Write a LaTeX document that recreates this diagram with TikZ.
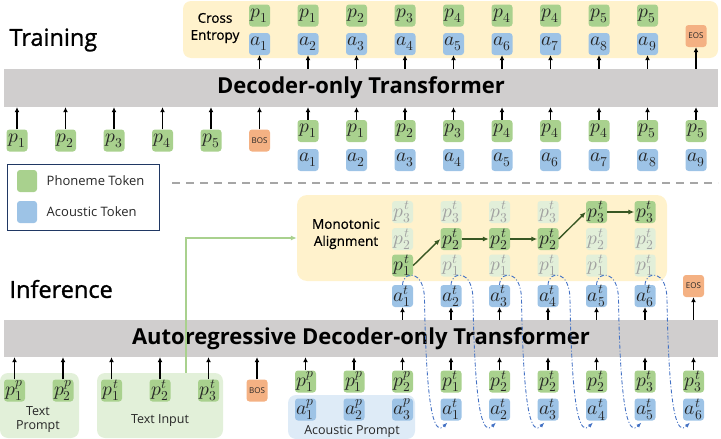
\documentclass[tikz,border=0pt]{standalone}
\usepackage{fontspec}
\usepackage{unicode-math}
\setmainfont{Open Sans}
\setmathfont{Latin Modern Math}
\newfontfamily\medfont{Open Sans}[FakeBold=1.2]
\newfontfamily\semifont{Open Sans}[FakeBold=0.7]
\usetikzlibrary{arrows.meta}
\definecolor{phg}{HTML}{A9D18E}
\definecolor{acb}{HTML}{9DC3E6}
\definecolor{fadeg}{HTML}{E2EFD9}
\definecolor{fadet}{HTML}{A0A0A0}
\definecolor{spo}{HTML}{F4B183}
\definecolor{cream}{HTML}{FFF2CC}
\definecolor{graybar}{HTML}{D0CECE}
\definecolor{lgbg}{HTML}{E2F0D9}
\definecolor{acbg}{HTML}{DEEBF7}
\definecolor{darkg}{HTML}{385723}
\definecolor{navy}{HTML}{203864}
\definecolor{dgray}{HTML}{A6A6A6}
\definecolor{bcurv}{HTML}{4472C4}
\definecolor{txt}{HTML}{262626}
\tikzset{
  tok/.style={minimum width=21pt, minimum height=22pt, rounded corners=3pt, inner sep=0pt, text=txt, font=\fontsize{19.5}{19.5}\selectfont},
  ph/.style={tok, fill=phg},
  ac/.style={tok, fill=acb},
  fd/.style={tok, fill=fadeg, text=fadet},
  sp/.style={tok, fill=spo, font=\fontsize{8}{8}\selectfont},
  arr/.style={-{Latex[length=5pt,width=5pt]}, line width=1.3pt, black},
  garr/.style={-{Latex[length=6pt,width=5pt]}, line width=1.4pt, darkg},
  bar/.style={fill=graybar, inner sep=0pt, minimum width=714pt, font=\bfseries\fontsize{22}{22}\selectfont, text=black},
  bgbox/.style={rounded corners=8pt, inner sep=0pt},
  lbl/.style={font=\fontsize{12.5}{14}\selectfont, text=txt, align=center},
  blbl/.style={font=\semifont\fontsize{13.5}{17}\selectfont, text=black, align=center},
  ttl/.style={font=\medfont\fontsize{23.5}{24}\selectfont, text=black},
  bcurve/.style={bcurv, line width=0.9pt, dash pattern=on 4pt off 2pt on 1pt off 2pt, -{Latex[length=5pt,width=4pt]}},
}
\begin{document}
\begin{tikzpicture}[x=1pt,y=-1pt]
\useasboundingbox (0,0) rectangle (721,439);

% ---------------- Training ----------------
\node[anchor=west, ttl] (train) at (6,40) {Training};
\node[bgbox, fill=cream, minimum width=535pt, minimum height=57pt] (cebox) at (450.5,29.5) {};
\node[blbl] (ce) at (215,28) {Cross\\Entropy};
\node[bar, minimum height=38pt] (bar1) at (361,88) {Decoder-only Transformer};

\foreach \i/\p [count=\k] in {5/1,6/1,7/2,8/3,9/4,10/4,11/4,12/5,13/5} {
  \node[ph] (tp\k) at ({17+48.5*\i},15.5) {$p_{\p}$};
  \node[ac] (ta\k) at ({17+48.5*\i},44) {$a_{\k}$};
  \draw[arr] (ta\k.south |- bar1.north) -- (ta\k.south);
}
\node[sp] (teos) at (696,36) {EOS};
\draw[arr] (teos.south |- bar1.north) -- (teos.south);

\foreach \k in {1,...,5} {
  \node[ph] (lp\k) at ({17+48.5*(\k-1)},140.5) {$p_{\k}$};
  \draw[arr] (lp\k.north) -- (lp\k.north |- bar1.south);
}
\node[sp] (tbos) at (259.5,140.5) {BOS};
\draw[arr] (tbos.north) -- (tbos.north |- bar1.south);

\foreach \i/\p [count=\k] in {6/1,7/1,8/2,9/3,10/4,11/4,12/4,13/5,14/5} {
  \node[ph] (bp\k) at ({17+48.5*\i},131) {$p_{\p}$};
  \node[ac] (ba\k) at ({17+48.5*\i},160) {$a_{\k}$};
  \draw[arr] (bp\k.north) -- (bp\k.north |- bar1.south);
}

% legend
\node[draw=navy, line width=1.2pt, minimum width=152pt, minimum height=66pt, inner sep=0pt] (leg) at (83.5,197.5) {};
\node[ph, minimum width=20pt] (lg1) at (27,181) {};
\node[lbl, anchor=west, font=\fontsize{13}{14}\selectfont] (lgt1) at (lg1.east) [xshift=6pt] {Phoneme Token};
\node[ac, minimum width=20pt] (lg2) at (27,212) {};
\node[lbl, anchor=west, font=\fontsize{13}{14}\selectfont] (lgt2) at (lg2.east) [xshift=6pt] {Acoustic Token};

% dashed separator
\coordinate (ds1) at (172,183);
\coordinate (ds2) at (718,183);
\draw[dgray, line width=1.4pt, dash pattern=on 8pt off 6pt] (ds1) -- (ds2);

% ---------------- Inference ----------------
\node[anchor=west, ttl] (infer) at (6,289) {Inference};
\node[bgbox, fill=cream, rounded corners=10pt, minimum width=370pt, minimum height=86pt] (mono) at (482,238) {};
\node[blbl] (monot) at (346,234) {Monotonic\\Alignment};

\node[bar, minimum height=37pt] (bar2) at (361,338.5) {Autoregressive Decoder-only Transformer};

\foreach \lv [count=\k] in {1,2,2,2,3,3} {
  \foreach \r/\yy in {1/265.5,2/239,3/212} {
    \ifnum\r=\lv \tikzset{cur/.style={ph}}\else\tikzset{cur/.style={fd}}\fi
    \node[cur] (m\k\r) at ({14.5+48.5*(7+\k)},\yy) {$p^{t}_{\r}$};
  }
  \node[ac] (ia\k) at ({14.5+48.5*(7+\k)},296) {$a^{t}_{\k}$};
  \draw[arr] (ia\k.south |- bar2.north) -- (ia\k.south);
}
\draw[garr] (m11.east) -- (m22.west);
\draw[garr] (m22.east) -- (m32.west);
\draw[garr] (m32.east) -- (m42.west);
\draw[garr] (m42.east) -- (m53.west);
\draw[garr] (m53.east) -- (m63.west);

\node[sp] (ieos) at (693.5,286) {EOS};
\draw[arr] (ieos.south |- bar2.north) -- (ieos.south);

% bottom backgrounds
\node[bgbox, fill=lgbg, minimum width=79pt, minimum height=65pt] (tpbox) at (39.5,405.5) {};
\node[bgbox, fill=lgbg, minimum width=126pt, minimum height=65pt] (tibox) at (160,405.5) {};
\node[bgbox, fill=acbg, minimum width=127pt, minimum height=44pt] (apbox) at (351.5,417) {};
\node[lbl] (tpl) at (38,420) {Text\\Prompt};
\node[lbl] (til) at (160,421) {Text Input};
\node[lbl] (apl) at (352,431) {Acoustic Prompt};

% green line from text input
\coordinate (glx) at (186,0);
\draw[phg, line width=1.3pt, -{Latex[length=6pt,width=5pt]}] (tibox.north -| glx) |- (mono.west);

% bottom tokens
\foreach \s/\n [count=\k] in {p/1,p/2,t/1,t/2,t/3} {
  \node[ph] (lt\k) at ({14.5+48.5*(\k-1)},390.5) {$p^{\s}_{\n}$};
  \draw[arr] (lt\k.north) -- (lt\k.north |- bar2.south);
}
\node[sp] (ibos) at (257,390.5) {BOS};
\draw[arr] (ibos.north) -- (ibos.north |- bar2.south);

\foreach \s/\n/\as/\an [count=\k] in {p/1/p/1,p/1/p/2,p/2/p/3,t/1/t/1,t/2/t/2,t/2/t/3,t/2/t/4,t/3/t/5,t/3/t/6} {
  \node[ph] (ipp\k) at ({14.5+48.5*(5+\k)},381.5) {$p^{\s}_{\n}$};
  \node[ac] (ipa\k) at ({14.5+48.5*(5+\k)},409.5) {$a^{\as}_{\an}$};
  \draw[arr] (ipp\k.north) -- (ipp\k.north |- bar2.south);
}

% blue dash-dot curves
\foreach \k [evaluate=\k as \m using int(\k+3)] in {1,...,6} {
  \draw[bcurve] (ia\k.north) .. controls +(1,-15) and +(0,-30) .. +(22,15)
     .. controls +(2,120) and +(-12,12) .. ([shift={(7,2)}]ipa\m.south west);
}
\end{tikzpicture}
\end{document}
